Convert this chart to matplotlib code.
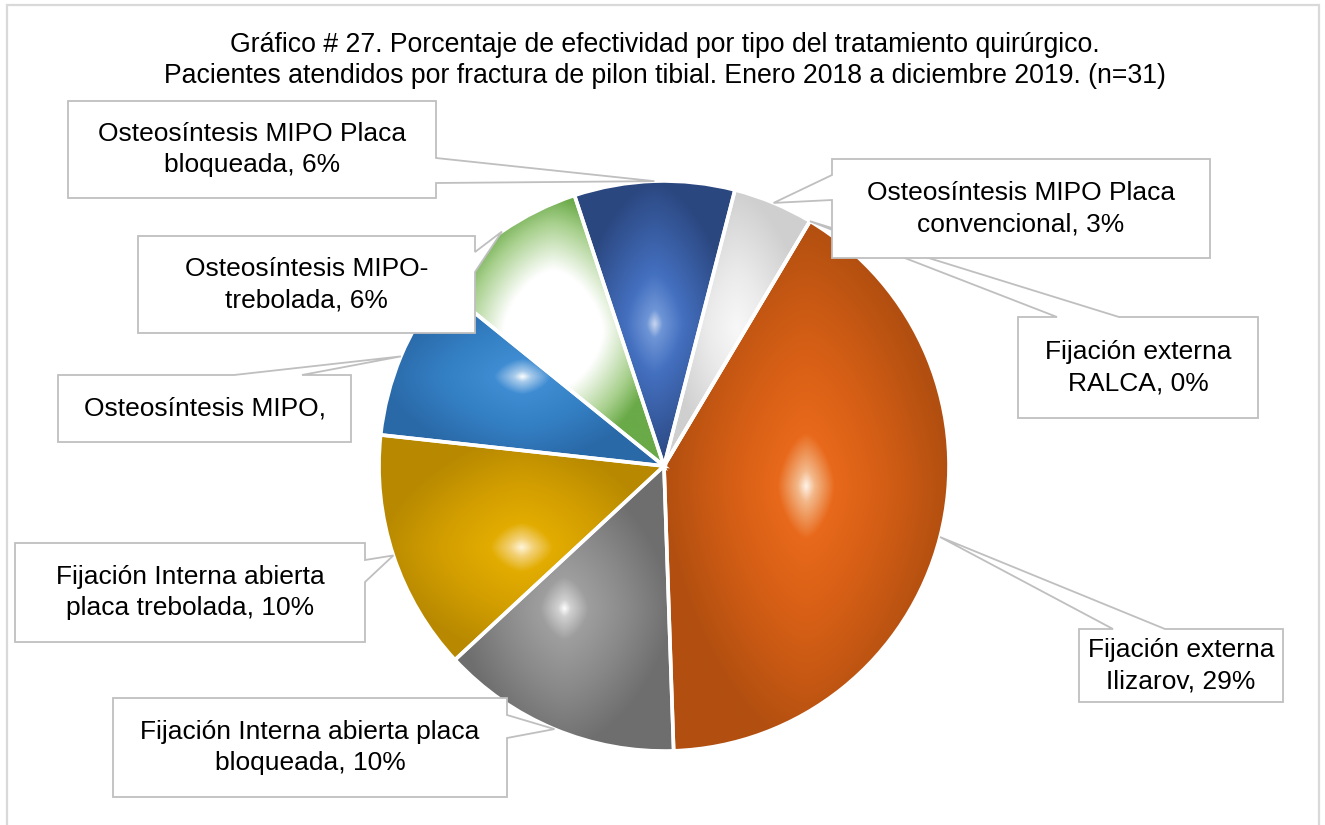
import numpy as np
import matplotlib
matplotlib.use("Agg")
import matplotlib.pyplot as plt
from matplotlib.patches import Polygon, Rectangle
from matplotlib.colors import to_rgb

W, H = 1325, 825

title_lines = ["Gráfico # 27. Porcentaje de efectividad por tipo del tratamiento quirúrgico.",
               "Pacientes atendidos por fractura de pilon tibial. Enero 2018 a diciembre 2019. (n=31)"]

categories = ["Fijación externa RALCA",
              "Fijación externa Ilizarov",
              "Fijación Interna abierta placa bloqueada",
              "Fijación Interna abierta placa trebolada",
              "Osteosíntesis MIPO",
              "Osteosíntesis MIPO-trebolada",
              "Osteosíntesis MIPO Placa bloqueada",
              "Osteosíntesis MIPO Placa convencional"]
percent = [0.0, 29.03, 9.68, 9.68, 6.45, 6.45, 6.45, 3.23]
label_texts = ["Fijación externa\nRALCA, 0%",
               "Fijación externa\nIlizarov, 29%",
               "Fijación Interna abierta placa\nbloqueada, 10%",
               "Fijación Interna abierta\nplaca trebolada, 10%",
               "Osteosíntesis MIPO,",
               "Osteosíntesis MIPO-\ntrebolada, 6%",
               "Osteosíntesis MIPO Placa\nbloqueada, 6%",
               "Osteosíntesis MIPO Placa\nconvencional, 3%"]

# colour ramps: (t positions, colours) from highlight centre (0) to edge (1)
ramps = [
    ([0, 1], ["#5B9BD5", "#2E5F95"]),
    ([0, 0.06, 0.2, 0.55, 1], ["#FFF4EA", "#F3B88A", "#E8691B", "#D45E15", "#B24F10"]),
    ([0, 0.06, 0.22, 0.6, 1], ["#FFFFFF", "#D0D0D0", "#9E9E9E", "#888888", "#6E6E6E"]),
    ([0, 0.08, 0.22, 0.55, 1], ["#FFF6DA", "#F3D27A", "#E2AC00", "#D39F00", "#B88900"]),
    ([0, 0.06, 0.2, 0.55, 1], ["#FFFFFF", "#A8CBEB", "#3F8CD2", "#3480C4", "#2A69A8"]),
    ([0, 0.45, 0.8, 1], ["#FFFFFF", "#FFFFFF", "#A8D08D", "#6AAA48"]),
    ([0, 0.1, 0.35, 1], ["#C9D7F0", "#6E95D6", "#4470C0", "#2B4780"]),
    ([0, 0.4, 1], ["#F8F8F8", "#EBEBEB", "#CFCFCF"]),
]

fig = plt.figure(figsize=(W / 100, H / 100), dpi=100)
ax = fig.add_axes([0, 0, 1, 1])

cx, cy, R = 664, H - 466, 285
wedges, _ = ax.pie(percent, startangle=59.2, counterclock=False, radius=R,
                   center=(cx, cy), frame=False,
                   wedgeprops=dict(edgecolor="white", linewidth=2.6))
ax.set_xlim(0, W)
ax.set_ylim(0, H)
ax.set_aspect("equal")
ax.axis("off")

N = 600
xs = np.linspace(cx - R, cx + R, N)
ys = np.linspace(cy - R, cy + R, N)
XX, YY = np.meshgrid(xs, ys)
for w, (tp, cols) in zip(wedges, ramps):
    w.set_facecolor("none")
    w.set_zorder(3)
    if w.theta2 - w.theta1 < 0.01:
        continue
    ext = w.get_path().get_extents()
    bx, by = (ext.x0 + ext.x1) / 2, (ext.y0 + ext.y1) / 2
    hw, hh = ext.width / 2, ext.height / 2
    p = 1.6
    t = ((np.abs(XX - bx) / hw) ** p + (np.abs(YY - by) / hh) ** p) ** (1 / p)
    t = np.clip(t, 0, 1)
    rgb = np.array([to_rgb(c) for c in cols])
    img = np.dstack([np.interp(t, tp, rgb[:, k]) for k in range(3)])
    im = ax.imshow(img, extent=(cx - R, cx + R, cy - R, cy + R), origin="lower",
                   interpolation="bilinear", zorder=2)
    im.set_clip_path(w)

ax.set_xlim(0, W)
ax.set_ylim(0, H)

# callout boxes (pixel coords, y downwards): box, tail side, tail base
boxes = [
    ((1018, 317, 1258, 418), "top", (1057, 1119)),
    ((1079, 629, 1283, 702), "top", (1113, 1165)),
    ((113, 698, 507, 797), "right", (715, 738)),
    ((15, 543, 365, 642), "right", (560, 582)),
    ((58, 375, 351, 442), "top", (234, 302)),
    ((138, 236, 475, 333), "right", (252, 272)),
    ((68, 101, 436, 198), "right", (158, 183)),
    ((832, 159, 1210, 258), "left", (175, 200)),
]

for w, txt, (box, side, (a, b)) in zip(wedges, label_texts, boxes):
    mid = np.deg2rad((w.theta1 + w.theta2) / 2)
    tx, ty = cx + R * np.cos(mid), cy + R * np.sin(mid)
    x0, y0, x1, y1 = box
    Y = lambda v: H - v
    if side == "top":
        pts = [(x0, Y(y0)), (a, Y(y0)), (tx, ty), (b, Y(y0)), (x1, Y(y0)),
               (x1, Y(y1)), (x0, Y(y1))]
    elif side == "right":
        pts = [(x0, Y(y0)), (x1, Y(y0)), (x1, Y(a)), (tx, ty), (x1, Y(b)),
               (x1, Y(y1)), (x0, Y(y1))]
    else:
        pts = [(x0, Y(y0)), (x1, Y(y0)), (x1, Y(y1)), (x0, Y(y1)), (x0, Y(b)),
               (tx, ty), (x0, Y(a))]
    ax.add_patch(Polygon(pts, closed=True, facecolor="white", edgecolor="#BFBFBF",
                         linewidth=1.3, zorder=5, joinstyle="miter"))
    ax.text((x0 + x1) / 2, H - (y0 + y1) / 2, txt, ha="center", va="center",
            fontsize=19, family="Liberation Sans", color="black",
            linespacing=1.38, zorder=6)

ax.text(665, H - 45, title_lines[0], ha="center", va="center", fontsize=19.2,
        family="Liberation Sans", color="black")
ax.text(665, H - 76, title_lines[1], ha="center", va="center", fontsize=19.2,
        family="Liberation Sans", color="black")

ax.add_patch(Rectangle((7, -10), 1312, H - 5 + 10, facecolor="none",
                       edgecolor="#D9D9D9", linewidth=1.6, zorder=0))

fig.savefig("out.png", dpi=100)
